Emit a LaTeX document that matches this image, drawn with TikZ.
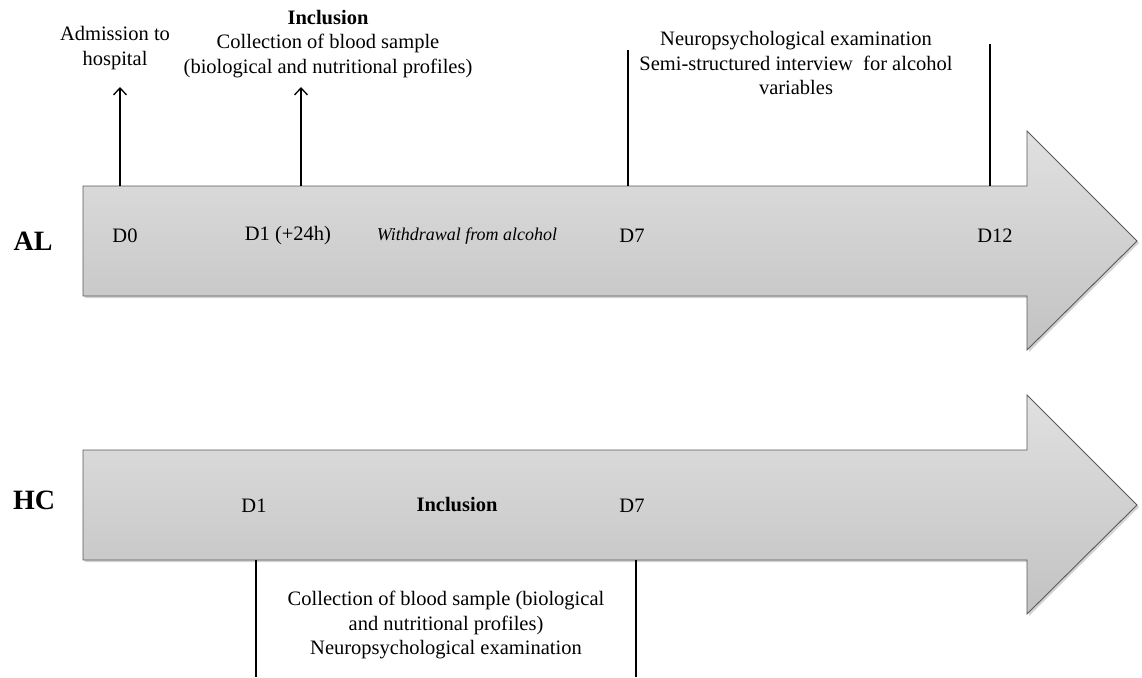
\documentclass[tikz,border=0pt]{standalone}
\usepackage{fontspec}
\setmainfont{Liberation Serif}
\usetikzlibrary{shadows,arrows.meta}
\begin{document}
\begin{tikzpicture}[x=1pt,y=-1pt,
  timearrow/.style={draw=black!65, line width=0.9pt, top color=gray!24, bottom color=gray!48,
     drop shadow={shadow xshift=2pt, shadow yshift=-2pt, opacity=0.35}},
  lbl/.style={font=\fontsize{20.5}{24.5}\selectfont, inner sep=0pt, align=center},
  grp/.style={font=\bfseries\fontsize{28}{30}\selectfont, inner sep=0pt},
  tick/.style={line width=1.2pt},
  uparr/.style={line width=1.3pt, -{Straight Barb[length=7pt,width=13pt]}}]
\useasboundingbox (0,0) rectangle (1142,677);
% arrows
\path[timearrow] (83,186) -- (1027,186) -- (1027,131) -- (1137,241) -- (1027,350) -- (1027,296) -- (83,296) -- cycle;
\path[timearrow] (83,450) -- (1027,450) -- (1027,395) -- (1137,505) -- (1027,614) -- (1027,560) -- (83,560) -- cycle;
% group labels
\node[grp] (al) at (33,241) {AL};
\node[grp] (hc) at (34,500) {HC};
% AL labels
\node[lbl] (d0) at (125,236) {D0};
\node[lbl] (d1) at (288,236) {D1 (+24h)};
\node[lbl, font=\itshape\fontsize{18}{22}\selectfont] (wd) at (467,236) {Withdrawal from alcohol};
\node[lbl] (d7) at (632,236) {D7};
\node[lbl] (d12) at (995,236) {D12};
\node[lbl] (adm) at (115,48) {Admission to\\hospital};
\node[lbl] (inc) at (328,44) {\textbf{Inclusion}\\Collection of blood sample\\(biological and nutritional profiles)};
\node[lbl] (neu) at (796,63) {Neuropsychological examination\\Semi-structured interview\ \ for alcohol\\variables};
\coordinate (a0) at (120,186); \coordinate (a0t) at (120,87);
\coordinate (a1) at (301,186); \coordinate (a1t) at (301,87);
\coordinate (b7) at (628,186); \coordinate (b7t) at (628,50);
\coordinate (b12) at (990,186); \coordinate (b12t) at (990,44);
\draw[uparr] (a0) -- (a0t);
\draw[uparr] (a1) -- (a1t);
\draw[tick] (b7) -- (b7t);
\draw[tick] (b12) -- (b12t);
% HC labels
\node[lbl] (hd1) at (254,506) {D1}; 
\node[lbl] (hinc) at (457,505) {\textbf{Inclusion}};
\node[lbl] (hd7) at (632,506) {D7};
\node[lbl] (hcol) at (446,625) {Collection of blood sample (biological\\and nutritional profiles)\\Neuropsychological examination};
\coordinate (c1) at (256,560); \coordinate (c1b) at (256,677);
\coordinate (c7) at (636,560); \coordinate (c7b) at (636,677);
\draw[tick] (c1) -- (c1b);
\draw[tick] (c7) -- (c7b);
\end{tikzpicture}
\end{document}
